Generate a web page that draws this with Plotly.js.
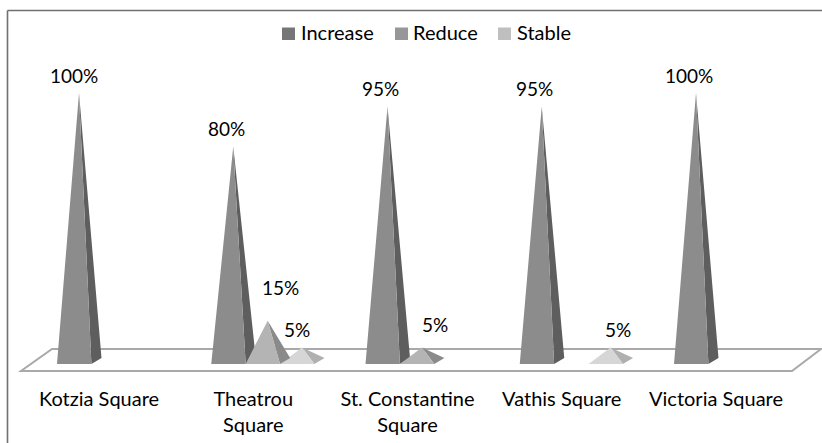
<!DOCTYPE html>
<html><head><meta charset="utf-8">
<script src="https://cdn.plot.ly/plotly-3.0.1.min.js"></script>
<style>html,body{margin:0;padding:0;background:#fff;overflow:hidden}</style>
</head><body><div id="chart" style="width:822px;height:443px"></div>
<script>
const categories = ["Kotzia Square", "Theatrou<br>Square", "St. Constantine<br>Square", "Vathis Square", "Victoria Square"];
const seriesNames = ["Increase", "Reduce", "Stable"];
const increase = [100, 80, 95, 95, 100];
const reduce = [0, 15, 5, 0, 0];
const stable = [0, 5, 0, 5, 0];

const W = 822, H = 443, PLOT_B = 385;
const XU = 154.25, YU = 2.68;          // pixels per category / per percent
const X0 = 99, Y0 = 361;               // pixel position of category 0 / of 0%
const pxX = p => (p - X0) / XU;
const dX = p => p / XU;
const dY = p => p / YU;
const pxY = p => (Y0 - p) / YU;

const SLOT = 34.4, APEX = 22, SIDE = 44.5, LEFT = -42;
const FRONT_BASE = dY(-3), BACK_BASE = dY(3);

function faces(vals, slot) {
  const fx = [], fy = [], sx = [], sy = [];
  vals.forEach((v, i) => {
    if (!v) return;
    const l = i + dX(LEFT + slot * SLOT);
    fx.push(l, l + dX(SLOT), l + dX(APEX), l, null);
    fy.push(FRONT_BASE, FRONT_BASE, v, FRONT_BASE, null);
    sx.push(l + dX(SLOT), l + dX(SIDE), l + dX(APEX), l + dX(SLOT), null);
    sy.push(FRONT_BASE, BACK_BASE, v, FRONT_BASE, null);
  });
  return {fx, fy, sx, sy};
}
function poly(x, y, color, name) {
  return {type: "scatter", mode: "lines", x, y, name, fill: "toself", fillcolor: color,
          line: {width: 0, color}, hoverinfo: "skip", showlegend: false};
}
function series(vals, slot, front, side, name) {
  const f = faces(vals, slot);
  return [poly(f.sx, f.sy, side, name), poly(f.fx, f.fy, front, name)];
}

const traces = [
  ...series(stable, 2, "#d6d6d6", "#b0b0b0", seriesNames[2]),
  ...series(increase, 0, "#8c8c8c", "#5e5e5e", seriesNames[0]),
  ...series(reduce, 1, "#b4b4b4", "#8a8a8a", seriesNames[1])
];

const FONT = "Lato, 'Open Sans', sans-serif";
function label(i, v, slot, xs, ys) {
  return {xref: "x", yref: "y", x: i + dX(LEFT + slot * SLOT + APEX), y: v, text: v + "%",
          showarrow: false, xanchor: "center", yanchor: "middle", xshift: xs, yshift: ys,
          font: {family: FONT, size: 19, color: "#000"}};
}
const paperY = p => (PLOT_B - p) / PLOT_B;
const paperX = p => p / W;

const legendItems = [
  {swatch: 282, text: 300, color: "#767676"},
  {swatch: 395, text: 412, color: "#979797"},
  {swatch: 498, text: 516, color: "#bfbfbf"}
];
const legendText = legendItems.map((it, k) => ({
  xref: "paper", yref: "paper", x: paperX(it.text), y: paperY(32), text: seriesNames[k],
  showarrow: false, xanchor: "left", yanchor: "middle", borderpad: 0,
  font: {family: FONT, size: 20, color: "#000"}
}));
const legendSwatches = legendItems.map(it => ({
  type: "rect", xref: "paper", yref: "paper", x0: paperX(it.swatch), x1: paperX(it.swatch + 13),
  y0: paperY(40), y1: paperY(27.5), fillcolor: it.color, line: {width: 0}
}));

const annotations = [
  label(0, increase[0], 0, -5, 18),
  label(1, increase[1], 0, -7, 18),
  label(2, increase[2], 0, -7, 18),
  label(3, increase[3], 0, -7, 18),
  label(4, increase[4], 0, -7, 18),
  label(1, reduce[1], 1, 13, 33),
  label(2, reduce[2], 1, 13, 23),
  label(1, stable[1], 2, -5, 18),
  label(3, stable[3], 2, 7, 18),
  ...legendText
];

const floorPath = "M" + pxX(21) + "," + pxY(371) + " L" + pxX(792) + "," + pxY(371) +
  " L" + pxX(821) + "," + pxY(349) + " L" + pxX(52) + "," + pxY(349) + " Z";
const shapes = [
  {type: "path", xref: "x", yref: "y", path: floorPath, layer: "below",
   fillcolor: "#ffffff", line: {color: "#a9a9a9", width: 2}},
  {type: "line", xref: "paper", yref: "paper", x0: paperX(7.5), x1: 1, y0: paperY(10.5), y1: paperY(10.5),
   line: {color: "#707070", width: 1.6}},
  {type: "line", xref: "paper", yref: "paper", x0: paperX(7.5), x1: paperX(7.5), y0: paperY(10.5), y1: paperY(H),
   line: {color: "#707070", width: 1.6}},
  ...legendSwatches
];

const layout = {
  width: W, height: H, margin: {l: 0, r: 0, t: 0, b: H - PLOT_B, pad: 0},
  paper_bgcolor: "#fff", plot_bgcolor: "rgba(0,0,0,0)",
  showlegend: false,
  xaxis: {range: [pxX(0), pxX(W)], tickmode: "array", tickvals: [0, 1, 2, 3, 4], ticktext: categories,
          showgrid: false, zeroline: false, showline: false, ticks: "", tickangle: 0,
          tickfont: {family: FONT, size: 20, color: "#000"}, fixedrange: true},
  yaxis: {range: [pxY(PLOT_B), pxY(0)], visible: false, fixedrange: true},
  shapes, annotations
};
Plotly.newPlot("chart", traces, layout, {displayModeBar: false, staticPlot: true});
</script></body></html>
